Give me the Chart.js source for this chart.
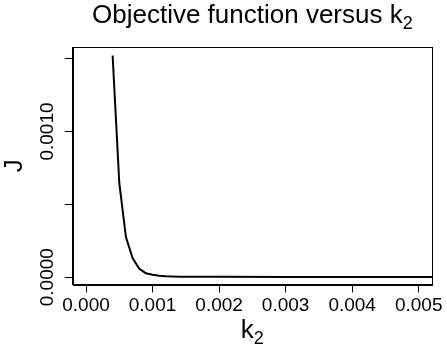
<!DOCTYPE html>
<html lang="en">
<head>
    <meta charset="UTF-8">
    <title>Objective function versus k2</title>
    <script src="https://cdn.jsdelivr.net/npm/chart.js"></script>
    <style>
        body {
            margin: 0;
            padding: 0;
            background-color: #ffffff;
        }
        #chart {
            display: block;
        }
    </style>
</head>
<body>
<canvas id="chart" width="447" height="350"></canvas>
<script>
    // values
    const k2 = [0.0004, 0.0005, 0.0006, 0.0007, 0.0008, 0.0009, 0.0010, 0.0011, 0.0012, 0.0013, 0.0014, 0.0015, 0.0020, 0.0030, 0.0040, 0.0050, 0.0053];
    const J = [0.001522, 0.000647, 0.000275, 0.000131, 0.0000585, 0.0000275, 0.0000172, 0.0000105, 0.0000070, 0.0000050, 0.0000040, 0.0000035, 0.0000025, 0.0000022, 0.0000020, 0.0000020, 0.0000020];

    const xTicks = [0, 0.001, 0.002, 0.003, 0.004, 0.005];
    const xTickLabels = ['0.000', '0.001', '0.002', '0.003', '0.004', '0.005'];
    const yTicks = [0, 0.0005, 0.001, 0.0015];
    const yTickLabels = ['0.0000', '', '0.0010', ''];

    const FONT = '"Liberation Sans", Arial, sans-serif';

    // R style box, rotated y labels, title and axis titles with subscripts
    const rDecor = {
        id: 'rDecor',
        afterDraw(chart) {
            const ctx = chart.ctx;
            const a = chart.chartArea;
            const ys = chart.scales.y;
            ctx.save();
            ctx.strokeStyle = '#000';
            ctx.lineWidth = 1;
            ctx.strokeRect(Math.round(a.left) + 0.5, Math.round(a.top) + 0.5,
                Math.round(a.right - a.left), Math.round(a.bottom - a.top));

            ctx.fillStyle = '#000';
            // y tick labels, turned
            ctx.font = '19px ' + FONT;
            ctx.textAlign = 'center';
            ctx.textBaseline = 'alphabetic';
            yTicks.forEach((v, i) => {
                if (!yTickLabels[i]) return;
                const py = ys.getPixelForValue(v);
                ctx.save();
                ctx.translate(53, py);
                ctx.rotate(-Math.PI / 2);
                ctx.fillText(yTickLabels[i], 0, 0);
                ctx.restore();
            });

            const cx = (a.left + a.right) / 2;
            const cy = (a.top + a.bottom) / 2;

            // main title
            subText(ctx, 'Objective function versus k', '2', cx, 23, 26);
            // x axis title
            subText(ctx, 'k', '2', cx, 338, 26);
            // y axis title
            ctx.save();
            ctx.translate(22, cy);
            ctx.rotate(-Math.PI / 2);
            ctx.font = '26px ' + FONT;
            ctx.textAlign = 'center';
            ctx.fillText('J', 0, 0);
            ctx.restore();
            ctx.restore();
        }
    };

    function subText(ctx, main, sub, cx, base, size) {
        ctx.save();
        ctx.textAlign = 'left';
        ctx.textBaseline = 'alphabetic';
        ctx.font = size + 'px ' + FONT;
        const w1 = ctx.measureText(main).width;
        const subSize = Math.round(size * 0.7);
        ctx.font = subSize + 'px ' + FONT;
        const w2 = ctx.measureText(sub).width;
        const x0 = cx - (w1 + w2) / 2;
        ctx.font = size + 'px ' + FONT;
        ctx.fillText(main, x0, base);
        ctx.font = subSize + 'px ' + FONT;
        ctx.fillText(sub, x0 + w1, base + size * 0.22);
        ctx.restore();
    }

    new Chart(document.getElementById('chart'), {
        type: 'line',
        data: {
            datasets: [{
                data: k2.map((x, i) => ({ x: x, y: J[i] })),
                borderColor: '#000',
                borderWidth: 2,
                pointRadius: 0,
                tension: 0,
                fill: false,
                clip: 0
            }]
        },
        options: {
            responsive: false,
            animation: false,
            layout: { padding: { top: 47, right: 15, left: 0, bottom: 0 } },
            plugins: {
                legend: { display: false },
                title: { display: false },
                tooltip: { enabled: false }
            },
            scales: {
                x: {
                    type: 'linear',
                    min: -0.0002,
                    max: 0.0052,
                    afterBuildTicks: s => { s.ticks = xTicks.map(v => ({ value: v })); },
                    afterFit: s => { s.height = 65.5; },
                    grid: {
                        drawOnChartArea: false,
                        drawTicks: true,
                        tickLength: 8,
                        color: '#000',
                        tickColor: '#000'
                    },
                    border: { display: true, color: '#000', width: 1 },
                    ticks: {
                        color: '#000',
                        font: { family: FONT, size: 19 },
                        padding: 2,
                        maxRotation: 0,
                        autoSkip: false,
                        callback: (v, i) => xTickLabels[i]
                    }
                },
                y: {
                    type: 'linear',
                    min: -0.00005,
                    max: 0.00158,
                    afterBuildTicks: s => { s.ticks = yTicks.map(v => ({ value: v })); },
                    afterFit: s => { s.width = 72.7; },
                    grid: {
                        drawOnChartArea: false,
                        drawTicks: true,
                        tickLength: 8,
                        color: '#000',
                        tickColor: '#000'
                    },
                    border: { display: true, color: '#000', width: 1 },
                    ticks: { display: false }
                }
            }
        },
        plugins: [rDecor]
    });
</script>
</body>
</html>
